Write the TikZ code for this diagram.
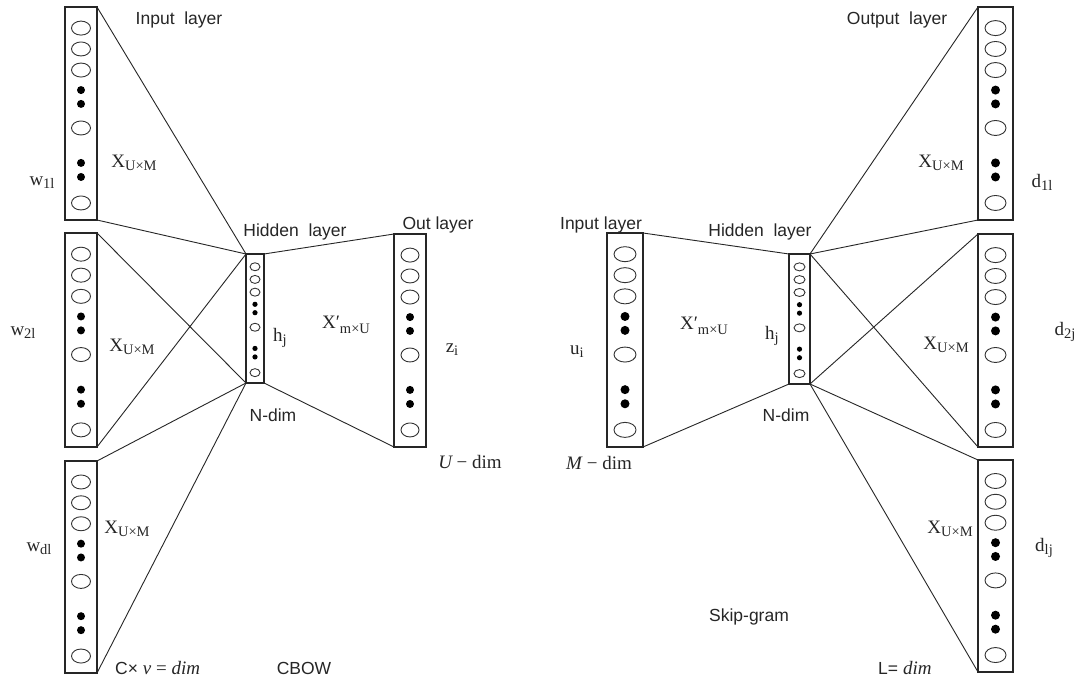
\RequirePackage{fix-cm}
\documentclass[tikz,border=0pt]{standalone}
\usepackage{fontspec}
\newfontfamily\sansf{Liberation Sans}
\newfontfamily\serf{Liberation Serif}
\usetikzlibrary{calc}
\tikzset{
  colbox/.style={draw=black!85, line width=1.1pt, rectangle, inner sep=0pt, outer sep=0pt, anchor=north west},
  unit/.style={draw=black!80, line width=0.9pt},
  unitdot/.style={fill=black},
  conn/.style={draw=black!85, line width=0.9pt},
  slab/.style={font=\sansf\fontsize{17.5}{20}\selectfont, text=black!85, inner sep=0pt},
  mlab/.style={font=\serf\fontsize{19}{22}\selectfont, text=black!85, inner sep=0pt}
}
% serif label with lowered small subscript
\newcommand\sublab[3][-0.15em]{#2\raisebox{#1}{\fontsize{14.5}{15}\selectfont #3}}
% #1 name, #2 left, #3 top, #4 right, #5 bottom, #6 ellipse x radius, #7 ellipse y radius, #8 dot radius
\newcommand\nncol[8]{%
  \node[colbox, minimum width={(#4-#2)*1pt}, minimum height={(#5-#3)*1pt}] (#1) at (#2,#3) {};
  \foreach \f/\k in {0.099/0,0.197/0,0.296/0,0.390/1,0.455/1,0.568/0,0.732/1,0.798/1,0.920/0}{
    \pgfmathsetmacro\yy{#3+\f*(#5-#3)}
    \pgfmathsetmacro\xx{(#2+#4)/2}
    \ifnum\k=0
      \draw[unit] (\xx,\yy) ellipse [x radius=#6pt, y radius=#7pt];
    \else
      \fill[unitdot] (\xx,\yy) ellipse [x radius=#8pt, y radius=#8pt];
    \fi
  }}
\begin{document}
\begin{tikzpicture}[x=1pt,y=-1pt]
\useasboundingbox (0,0) rectangle (1078,679);
\fill[white] (0,0) rectangle (1078,679);

% ---------- CBOW ----------
\nncol{c1}{65}{7}{97}{220}{9.5}{7}{4}
\nncol{c2}{65}{233}{97}{447}{9.5}{7}{4}
\nncol{c3}{65}{461}{97}{673}{9.5}{7}{4}
\nncol{hl}{246}{254}{264}{383}{5}{4}{2.6}
\nncol{ol}{394}{234}{426}{447}{9}{7}{4}

\draw[conn] (c1.north east) -- (hl.north west);
\draw[conn] (c1.south east) -- (hl.north west);
\draw[conn] (c2.north east) -- (hl.south west);
\draw[conn] (c2.south east) -- (hl.north west);
\draw[conn] (c3.north east) -- (hl.south west);
\draw[conn] (c3.south east) -- (hl.south west);
\draw[conn] (hl.north east) -- (ol.north west);
\draw[conn] (hl.south east) -- (ol.south west);

\node[slab] (t1) at (179,20) {Input\ \ layer};
\node[slab] (t2) at (295,232) {Hidden\ \ layer};
\node[slab] (t3) at (273,415) {N-dim};
\node[slab] (t4) at (438,225) {Out layer};
\node[slab] (t5) at (304,668) {CBOW};
\node[slab, anchor=base west] (t6) at (115,674) {C× {\serf\fontsize{19}{22}\selectfont\itshape v} {\serf\fontsize{19}{22}\selectfont = \itshape dim}};

\node[mlab] (m1) at (42,183) {\sublab{w}{1l}};
\node[mlab] (m2) at (23,333) {\sublab{w}{2l}};
\node[mlab] (m3) at (39,549) {\sublab{w}{dl}};
\node[mlab] (m4) at (134,163) {\sublab{X}{U×M}};
\node[mlab] (m5) at (132,347) {\sublab{X}{U×M}};
\node[mlab] (m6) at (127,529) {\sublab{X}{U×M}};
\node[mlab] (m7) at (280,338) {\sublab{h}{j}};
\node[mlab] (m8) at (346,325) {\sublab[-0.25em]{X′}{m×U}};
\node[mlab] (m9) at (452,350) {\sublab{z}{i}};
\node[mlab] (m10) at (470,462) {{\itshape U} − dim};

% ---------- Skip-gram ----------
\nncol{ri}{607}{233}{643}{447}{11}{7.5}{4.5}
\nncol{hr}{789}{254}{810}{384}{5.5}{4}{2.6}
\nncol{r1}{978}{7}{1013}{220}{10.5}{7.5}{4.5}
\nncol{r2}{978}{234}{1013}{447}{10.5}{7.5}{4.5}
\nncol{r3}{978}{460}{1013}{672}{10.5}{7.5}{4.5}

\draw[conn] (ri.north east) -- (hr.north west);
\draw[conn] (ri.south east) -- (hr.south west);
\draw[conn] (hr.north east) -- (r1.north west);
\draw[conn] (hr.north east) -- (r1.south west);
\draw[conn] (hr.north east) -- (r2.south west);
\draw[conn] (hr.south east) -- (r2.north west);
\draw[conn] (hr.south east) -- (r3.north west);
\draw[conn] (hr.south east) -- (r3.south west);

\node[slab] (s1) at (601,225) {Input layer};
\node[slab] (s2) at (760,232) {Hidden\ \ layer};
\node[slab] (s3) at (786,415) {N-dim};
\node[slab] (s4) at (897,20) {Output\ \ layer};
\node[slab] (s5) at (749,617) {Skip-gram};
\node[slab, anchor=base west] (s6) at (878,674) {L= {\serf\fontsize{19}{22}\selectfont\itshape dim}};

\node[mlab] (n1) at (577,352) {\sublab{u}{i}};
\node[mlab] (n2) at (599,463) {{\itshape M} − dim};
\node[mlab] (n3) at (704,326) {\sublab[-0.25em]{X′}{m×U}};
\node[mlab] (n4) at (772,336) {\sublab{h}{j}};
\node[mlab] (n5) at (941,163) {\sublab{X}{U×M}};
\node[mlab] (n6) at (946,345) {\sublab{X}{U×M}};
\node[mlab] (n7) at (950,529) {\sublab{X}{U×M}};
\node[mlab] (n8) at (1042,182) {\sublab{d}{1l}};
\node[mlab] (n9) at (1065,332) {\sublab{d}{2j}};
\node[mlab] (n10) at (1044,548) {\sublab{d}{lj}};
\end{tikzpicture}
\end{document}
